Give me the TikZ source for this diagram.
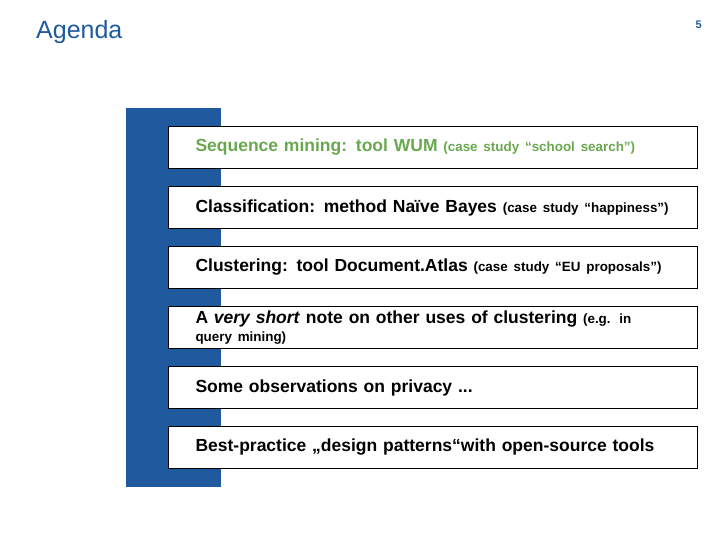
\documentclass[tikz,border=0pt]{standalone}
\usepackage{fontspec}
\setmainfont{Liberation Sans}
\usepackage{xcolor}
\usetikzlibrary{positioning}
\definecolor{agblue}{HTML}{1F5A9E}
\definecolor{aggreen}{HTML}{6AA84F}
\tikzstyle{item} = [draw=black, fill=white, line width=1pt, minimum width=513pt,
    minimum height=42pt, text width=475pt, inner xsep=27pt, inner ysep=2pt, align=left,
    font=\fontsize{17.5}{18}\selectfont\bfseries, anchor=north west]
\newcommand{\sm}[1]{{\fontsize{13.4}{17}\selectfont #1}}

\begin{document}
\begin{tikzpicture}[x=1pt, y=-1pt]
  \useasboundingbox (0,0) rectangle (720,540);
  % Header
  \node [anchor=west, inner sep=0pt, text=agblue, font=\fontsize{25}{28}\selectfont] (title) at (36,32) {Agenda};
  \node [anchor=east, inner sep=0pt, text=agblue, font=\fontsize{11}{12}\selectfont\bfseries] (page) at (702,25) {5};
  % Side bar
  \fill [agblue] (126,108) rectangle (221,487);

  % Place items
  \node [item, text=aggreen] (seq) at (168,126) {Sequence mining: tool WUM \sm{(case study “school search”)}};
  \node [item] (cls) at (168,186) {Classification: method Naïve Bayes \sm{(case study “happiness”)}};
  \node [item] (clu) at (168,246) {Clustering: tool Document.Atlas \sm{(case study “EU proposals”)}};
  \node [item] (note) at (168,306) {A \textit{very short} note on other uses of clustering \sm{(e.g. in query mining)}};
  \node [item] (priv) at (168,366) {Some observations on privacy ...};
  \node [item] (best) at (168,426) {Best-practice „design patterns“with open-source tools};
\end{tikzpicture}
\end{document}
